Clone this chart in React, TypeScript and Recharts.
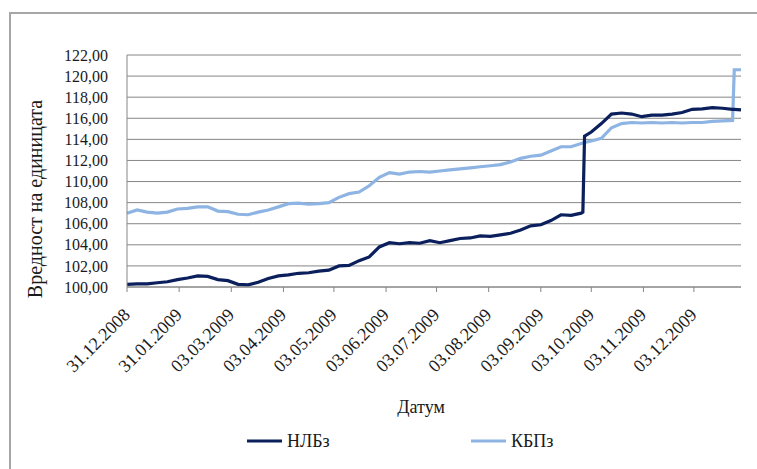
// Вредност на единицата: НЛБз и КБПз во текот на 2009 година
import React from "react";
import { LineChart, Line, XAxis, YAxis, CartesianGrid } from "recharts";

// ден од 31.12.2008
const days = [
  0, 6, 12, 18, 24, 30, 36, 42, 48, 54, 60, 66, 72, 78, 84, 90, 96, 102, 108, 114,
  120, 126, 132, 138, 144, 150, 156, 162, 168, 174, 180, 186, 192, 198, 204, 210, 216, 222, 228, 234,
  240, 246, 252, 258, 264, 270, 271, 272, 276, 282, 288, 294, 300, 306, 312, 318, 324, 330, 336, 342,
  348, 354, 360, 361, 365,
];
const nlbz = [
  100.25, 100.3, 100.3, 100.4, 100.5, 100.7, 100.85, 101.05, 101.0, 100.7, 100.6, 100.25, 100.2, 100.45, 100.8, 101.05, 101.15, 101.3, 101.35, 101.5,
  101.6, 102.0, 102.05, 102.5, 102.85, 103.8, 104.2, 104.1, 104.2, 104.15, 104.4, 104.2, 104.4, 104.6, 104.65, 104.85, 104.8, 104.95, 105.1, 105.4,
  105.8, 105.9, 106.3, 106.85, 106.8, 107.0, 107.1, 114.3, 114.7, 115.5, 116.4, 116.5, 116.4, 116.15, 116.3, 116.3, 116.4, 116.55, 116.85, 116.9,
  117.0, 116.95, 116.85, 116.85, 116.8,
];
const kbpz = [
  107.0, 107.3, 107.1, 107.0, 107.1, 107.4, 107.45, 107.6, 107.6, 107.2, 107.15, 106.9, 106.85, 107.1, 107.3, 107.6, 107.9, 107.95, 107.85, 107.9,
  108.0, 108.5, 108.85, 109.0, 109.6, 110.4, 110.85, 110.7, 110.9, 110.95, 110.9, 111.0, 111.1, 111.2, 111.3, 111.4, 111.5, 111.6, 111.85, 112.2,
  112.4, 112.5, 112.9, 113.3, 113.3, 113.6, 113.65, 113.7, 113.85, 114.1, 115.1, 115.5, 115.6, 115.55, 115.6, 115.55, 115.6, 115.55, 115.6, 115.6,
  115.7, 115.75, 115.8, 120.6, 120.6,
];

const tickDays = [0, 31, 62, 93, 123, 154, 184, 215, 246, 276, 307, 337];
const tickLabels = [
  "31.12.2008", "31.01.2009", "03.03.2009", "03.04.2009", "03.05.2009", "03.06.2009",
  "03.07.2009", "03.08.2009", "03.09.2009", "03.10.2009", "03.11.2009", "03.12.2009",
];
const yTicks = [100, 102, 104, 106, 108, 110, 112, 114, 116, 118, 120, 122];

const data = days.map((d, i) => ({ d, nlbz: nlbz[i], kbpz: kbpz[i] }));

const C = { dark: "#0A1F5C", light: "#8DB4E2", grid: "#868686", ink: "#1a1a1a" };
const font = "'Liberation Serif', 'DejaVu Serif', serif";
const tickStyle = { fontSize: 16, fill: C.ink, fontFamily: font };

const fmtY = (v: number) => v.toFixed(2).replace(".", ",");

// косо испишан датум, крајот е веднаш под цртичката
const DateTick = ({ x, y, payload }: any) => (
  <g transform={`translate(${x + 4},${y + 24})`}>
    <text textAnchor="end" transform="rotate(-45)" fontSize={18} fontFamily={font} fill={C.ink}>
      {tickLabels[tickDays.indexOf(payload.value)]}
    </text>
  </g>
);

export default function App() {
  return (
    <div style={{ position: "relative", width: 757, height: 469, overflow: "hidden", background: "#fff", fontFamily: font }}>
      <style>{"body{margin:0}"}</style>
      <div style={{ position: "absolute", left: 9, top: 12, width: 800, height: 520, border: "2px solid #a6a6a6" }} />
      <div style={{ position: "absolute", left: 0, top: 0 }}>
        <LineChart width={757} height={469} data={data} margin={{ top: 55, right: 16, left: 0, bottom: 0 }}>
          <CartesianGrid stroke={C.grid} vertical={false} />
          <XAxis
            dataKey="d" type="number" domain={[0, 365]} ticks={tickDays}
            height={182} stroke={C.grid} tickSize={5} tickMargin={0} tick={<DateTick />} interval={0}
          />
          <YAxis
            domain={[100, 122]} ticks={yTicks} tickFormatter={fmtY} width={127}
            stroke={C.grid} tickLine={false} tickSize={0} tickMargin={19} tick={tickStyle} interval={0}
          />
          <Line type="linear" dataKey="kbpz" name="КБПз" stroke={C.light} strokeWidth={3.2} dot={false} isAnimationActive={false} />
          <Line type="linear" dataKey="nlbz" name="НЛБз" stroke={C.dark} strokeWidth={3.2} dot={false} isAnimationActive={false} />
        </LineChart>
      </div>
      <div style={{ position: "absolute", left: 35, top: 199, transform: "translate(-50%,-50%) rotate(-90deg)", whiteSpace: "nowrap", fontSize: 20, color: C.ink }}>
        Вредност на единицата
      </div>
      <div style={{ position: "absolute", left: 421, top: 407, transform: "translate(-50%,-50%)", fontSize: 18, color: C.ink }}>
        Датум
      </div>
      {[{ n: "НЛБз", c: C.dark, x: 247 }, { n: "КБПз", c: C.light, x: 471 }].map((s) => (
        <div key={s.n} style={{ position: "absolute", left: s.x, top: 441, transform: "translateY(-50%)", display: "flex", alignItems: "center", fontSize: 18, color: C.ink }}>
          <span style={{ display: "inline-block", width: 35, height: 3, background: s.c, marginRight: 5 }} />
          {s.n}
        </div>
      ))}
    </div>
  );
}
